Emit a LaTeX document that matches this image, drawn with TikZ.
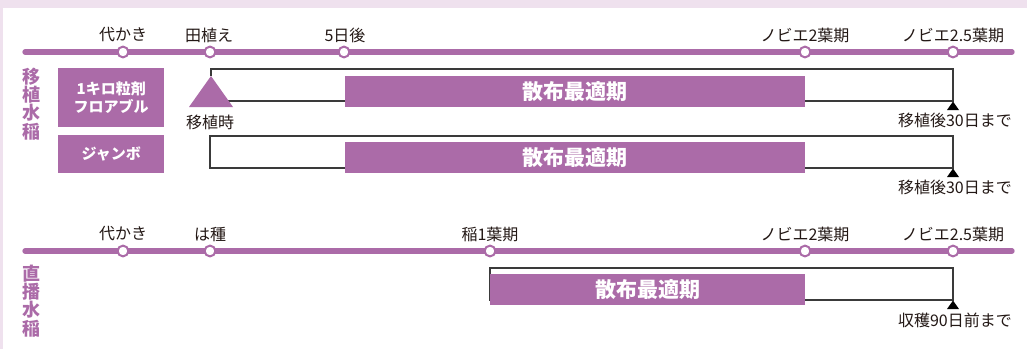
\documentclass[tikz,border=0pt]{standalone}
\usepackage{fontspec}
\setmainfont{Noto Sans CJK JP}
\definecolor{purp}{HTML}{AB6BA8}
\definecolor{bgl}{HTML}{EFE1EE}
\definecolor{txt}{HTML}{231815}
\definecolor{brkc}{HTML}{3A3A3A}
\begin{document}
\begin{tikzpicture}[x=1pt,y=-1pt,
  tl/.style={line width=5.3pt, draw=purp, line cap=round},
  dot/.style={circle, draw=purp, fill=white, line width=2pt, minimum size=10.8pt, inner sep=0pt},
  lab/.style={font=\fontsize{16}{16}\selectfont, text=txt, inner sep=0pt},
  bar/.style={fill=purp, draw=none, text=white, inner sep=0pt, anchor=north west, font=\bfseries\fontsize{21}{21}\selectfont},
  brk/.style={draw=brkc, line width=1.1pt},
  side/.style={text=purp, inner sep=0pt, align=center, font=\bfseries\fontsize{18}{18.2}\selectfont},
  kbox/.style={fill=purp, text=white, inner sep=0pt, anchor=north west, align=center, minimum width=106pt, font=\bfseries\fontsize{15}{18.5}\selectfont},
  endmark/.style={fill=black},
]
\useasboundingbox (0,0) rectangle (1027,349);
\fill[bgl] (0,0) rectangle (1027,349);
\fill[white] (3,8) rectangle (1027,349);

% ---------- timeline 1 ----------
\coordinate (a0) at (25,52);
\coordinate (a6) at (1012,52);
\draw[tl] (a0) -- (a6);
\node[dot] (a1) at (123,52) {};
\node[dot] (a2) at (210,52) {};
\node[dot] (a3) at (344,52) {};
\node[dot] (a4) at (805,52) {};
\node[dot] (a5) at (953,52) {};
\node[lab] (la1) at (123,35) {代かき};
\node[lab] (la2) at (209,35) {田植え};
\node[lab] (la3) at (345,35) {5日後};
\node[lab] (la4) at (805,35) {ノビエ2葉期};
\node[lab] (la5) at (953,35) {ノビエ2.5葉期};

% side labels
\node[side] (s1) at (32,104) {移\\植\\水\\稲};
\node[side] (s2) at (32,301) {直\\播\\水\\稲};

% product boxes
\node[kbox, minimum height=59pt] (k1) at (58,68) {1キロ粒剤\\フロアブル};
\node[kbox, minimum height=38pt] (k2) at (58,135) {ジャンボ};

% ---------- row 1 ----------
\coordinate (r1a) at (211,76);
\coordinate (r1b) at (211,69);
\coordinate (r1c) at (953,69);
\coordinate (r1d) at (953,101);
\coordinate (r1e) at (222,101);
\draw[brk] (r1a) -- (r1b) -- (r1c) -- (r1d) -- (r1e);
\fill[purp] (211,76) -- (233,107) -- (189,107) -- cycle;
\node[lab] (ji) at (210,122) {移植時};
\node[bar, minimum width=460pt, minimum height=31pt] (b1) at (345,76) {散布最適期};
\fill[endmark] (953,101.5) -- (959,110) -- (947,110) -- cycle;
\node[lab, anchor=east] (e1) at (1012,120) {移植後30日まで};

% ---------- row 2 ----------
\coordinate (r2a) at (210,136);
\coordinate (r2b) at (953,168);
\draw[brk] (r2a) rectangle (r2b);
\node[bar, minimum width=460pt, minimum height=31pt] (b2) at (345,142) {散布最適期};
\fill[endmark] (953,168.5) -- (959,177) -- (947,177) -- cycle;
\node[lab, anchor=east] (e2) at (1012,187) {移植後30日まで};

% ---------- timeline 2 ----------
\coordinate (c0) at (25,251);
\coordinate (c6) at (1012,251);
\draw[tl] (c0) -- (c6);
\node[dot] (c1) at (123,251) {};
\node[dot] (c2) at (210,251) {};
\node[dot] (c3) at (490,251) {};
\node[dot] (c4) at (805,251) {};
\node[dot] (c5) at (953,251) {};
\node[lab] (lc1) at (123,234) {代かき};
\node[lab] (lc2) at (210,234) {は種};
\node[lab] (lc3) at (490,234) {稲1葉期};
\node[lab] (lc4) at (805,234) {ノビエ2葉期};
\node[lab] (lc5) at (953,234) {ノビエ2.5葉期};

% ---------- row 3 ----------
\coordinate (r3a) at (490,268);
\coordinate (r3b) at (953,300);
\draw[brk] (r3a) rectangle (r3b);
\node[bar, minimum width=315pt, minimum height=31pt] (b3) at (490,274) {散布最適期};
\fill[endmark] (953,300.5) -- (959,309) -- (947,309) -- cycle;
\node[lab, anchor=east] (e3) at (1012,320) {収穫90日前まで};
\end{tikzpicture}
\end{document}
